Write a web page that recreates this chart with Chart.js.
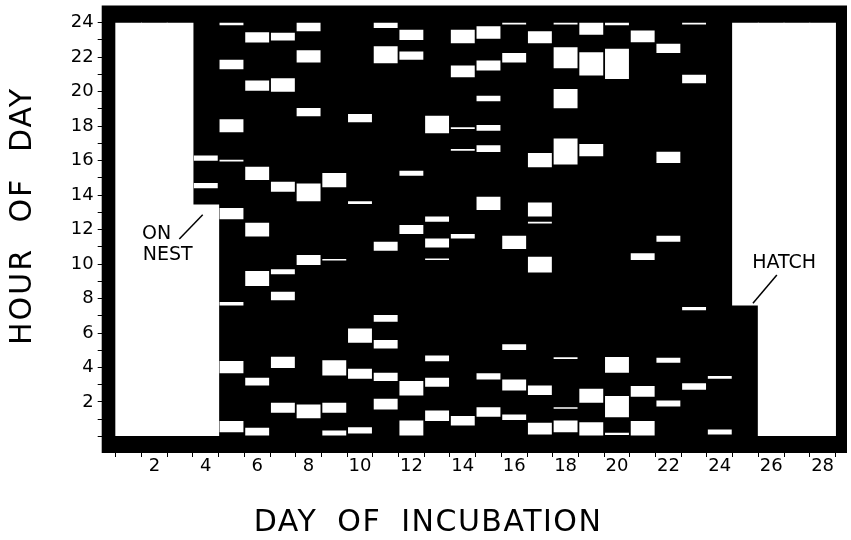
<!DOCTYPE html>
<html>
<head>
<meta charset="utf-8">
<script src="https://cdn.jsdelivr.net/npm/chart.js@4.4.0/dist/chart.umd.min.js"></script>
<style>
  html, body { margin: 0; padding: 0; background: #fff; }
</style>
</head>
<body>
<canvas id="chart" width="851" height="540"></canvas>
<script>
const dayTickLabels = ['2', '4', '6', '8', '10', '12', '14', '16', '18', '20', '22', '24', '26', '28'];
const hourTickLabels = ['2', '4', '6', '8', '10', '12', '14', '16', '18', '20', '22', '24'];

// [day, from hour, to hour]: bird not yet incubating / chicks hatched
const beforeStart = [[1, 0, 24], [2, 0, 24], [3, 0, 24], [4, 0, 13.45]];
const afterHatch = [[25, 7.6, 24], [26, 0, 24], [27, 0, 24], [28, 0, 24]];

// [day, from hour, to hour]: off-nest bouts (white bars)
const offNestBouts = [
    [4, 14.4, 14.7], [4, 16.0, 16.3],
    [5, 0.25, 0.9], [5, 3.66, 4.38], [5, 7.6, 7.8], [5, 12.6, 13.25], [5, 15.95, 16.05], [5, 17.65, 18.4], [5, 21.3, 21.85], [5, 23.85, 24.0],
    [6, 0.05, 0.5], [6, 2.96, 3.4], [6, 8.73, 9.6], [6, 11.6, 12.4], [6, 14.87, 15.65], [6, 20.05, 20.65], [6, 22.85, 23.45],
    [7, 1.38, 1.96], [7, 3.97, 4.63], [7, 7.9, 8.4], [7, 9.41, 9.7], [7, 14.2, 14.78], [7, 20.0, 20.78], [7, 22.97, 23.42],
    [8, 1.05, 1.86], [8, 9.95, 10.52], [8, 13.65, 14.68], [8, 18.58, 19.06], [8, 21.7, 22.4], [8, 23.5, 24.0],
    [9, 0.06, 0.35], [9, 1.38, 1.96], [9, 3.54, 4.42], [9, 10.2, 10.3], [9, 14.45, 15.28],
    [10, 0.17, 0.54], [10, 3.35, 3.93], [10, 5.44, 6.26], [10, 13.48, 13.64], [10, 18.23, 18.71],
    [11, 1.57, 2.19], [11, 3.21, 3.7], [11, 5.1, 5.6], [11, 6.66, 7.05], [11, 10.77, 11.29], [11, 21.65, 22.64], [11, 23.7, 24.0],
    [12, 0.06, 0.93], [12, 2.38, 3.21], [12, 11.74, 12.26], [12, 15.13, 15.42], [12, 21.85, 22.33], [12, 23.0, 23.6],
    [13, 0.89, 1.51], [13, 2.89, 3.41], [13, 4.36, 4.7], [13, 10.23, 10.33], [13, 10.96, 11.48], [13, 12.45, 12.76], [13, 17.59, 18.61],
    [14, 0.64, 1.19], [14, 11.49, 11.74], [14, 16.58, 16.68], [14, 17.84, 17.93], [14, 20.84, 21.52], [14, 22.81, 23.59],
    [15, 1.14, 1.7], [15, 3.31, 3.66], [15, 13.13, 13.9], [15, 16.5, 16.89], [15, 17.74, 18.07], [15, 19.45, 19.77], [15, 21.23, 21.81], [15, 23.07, 23.8],
    [16, 0.95, 1.28], [16, 2.67, 3.31], [16, 5.01, 5.35], [16, 10.87, 11.64], [16, 21.7, 22.24], [16, 23.9, 24.0],
    [17, 0.12, 0.79], [17, 2.4, 2.96], [17, 9.51, 10.42], [17, 12.35, 12.45], [17, 12.76, 13.57], [17, 15.61, 16.44], [17, 22.81, 23.51],
    [18, 0.25, 0.93], [18, 1.6, 1.7], [18, 4.5, 4.6], [18, 15.77, 17.29], [18, 19.04, 20.16], [18, 21.36, 22.58], [18, 23.9, 24.0],
    [19, 0.06, 0.83], [19, 1.96, 2.76], [19, 16.25, 16.97], [19, 20.94, 22.29], [19, 23.3, 24.0],
    [20, 0.08, 0.21], [20, 1.12, 2.34], [20, 3.7, 4.61], [20, 20.74, 22.49], [20, 23.85, 24.0],
    [21, 0.06, 0.89], [21, 2.31, 2.92], [21, 10.24, 10.63], [21, 22.87, 23.55],
    [22, 1.74, 2.09], [22, 4.28, 4.57], [22, 11.29, 11.64], [22, 15.86, 16.52], [22, 22.24, 22.78],
    [23, 2.71, 3.08], [23, 7.32, 7.51], [23, 20.49, 20.98], [23, 23.9, 24.0],
    [24, 0.12, 0.41], [24, 3.35, 3.5]
];

const black = '#000';
const white = '#fff';
const family = "'DejaVu Sans', sans-serif";
const ctx = document.querySelector('#chart').getContext('2d');

// a day n sits between n-1 and n on the x scale
const toBars = rows => rows.map(([day, from, to]) => ({ x: day - 0.5, y: [from, to] }));

const noPadding = s => { s.paddingTop = 0; s.paddingBottom = 0; s.paddingLeft = 0; s.paddingRight = 0; };

const blackBox = {
    id: 'blackBox',
    beforeDatasetsDraw(chart) {
        const { ctx, chartArea: a } = chart;
        ctx.save();
        ctx.fillStyle = black;
        ctx.fillRect(a.left, a.top, a.right - a.left, a.bottom - a.top);
        ctx.restore();
    }
};

const notes = {
    id: 'notes',
    afterDraw(chart) {
        const { ctx, scales: { x, y } } = chart;
        const px = v => x.getPixelForValue(v);
        const py = v => y.getPixelForValue(v);
        const line = (x1, y1, x2, y2) => {
            ctx.beginPath();
            ctx.moveTo(px(x1), py(y1));
            ctx.lineTo(px(x2), py(y2));
            ctx.stroke();
        };
        ctx.save();
        ctx.fillStyle = black;
        ctx.strokeStyle = black;
        ctx.lineWidth = 1.5;
        ctx.font = `19px ${family}`;
        ctx.textBaseline = 'alphabetic';
        ctx.fillText('ON', px(1.02), py(11.46));
        ctx.fillText('NEST', px(1.05), py(10.24));
        line(2.47, 11.45, 3.38, 12.86);
        ctx.fillText('HATCH', px(24.76), py(9.76));
        line(24.79, 7.73, 25.72, 9.37);

        // axis titles
        ctx.font = `30px ${family}`;
        ctx.textAlign = 'center';
        ctx.textBaseline = 'middle';
        ctx.letterSpacing = '1.5px';
        ctx.wordSpacing = '9px';
        ctx.fillText('DAY OF INCUBATION', 428, 523);
        ctx.letterSpacing = '2px';
        ctx.wordSpacing = '14px';
        ctx.translate(23, 216);
        ctx.rotate(-Math.PI / 2);
        ctx.fillText('HOUR OF DAY', 0, 0);
        ctx.restore();
    }
};

const tickFont = { family, size: 18, lineHeight: 1 };

new Chart(ctx, {
    type: 'bar',
    data: {
        datasets: [{
            data: toBars(beforeStart.concat(afterHatch)),
            backgroundColor: white,
            borderWidth: 0,
            grouped: false,
            barPercentage: 1.04,
            categoryPercentage: 1
        }, {
            data: toBars(offNestBouts),
            backgroundColor: white,
            borderWidth: 0,
            grouped: false,
            barPercentage: 0.93,
            categoryPercentage: 1
        }]
    },
    options: {
        responsive: false,
        animation: false,
        layout: { padding: { left: 0, right: 4, top: 5.5, bottom: 0 } },
        plugins: { legend: { display: false }, tooltip: { enabled: false } },
        scales: {
            x: {
                type: 'linear',
                position: 'bottom',
                weight: 0,
                min: -0.55,
                max: 28.45,
                offset: false,
                afterBuildTicks: s => { s.ticks = Array.from({ length: 29 }, (_, i) => ({ value: i })); },
                ticks: { display: false },
                grid: { offset: false, drawOnChartArea: false, drawTicks: true, tickLength: 4, tickColor: black, tickWidth: 1 },
                border: { display: false },
                afterFit: noPadding
            },
            dayAxis: {
                type: 'linear',
                position: 'bottom',
                weight: 1,
                min: -0.55,
                max: 28.45,
                offset: false,
                afterBuildTicks: s => { s.ticks = dayTickLabels.map(d => ({ value: Number(d) - 0.5 })); },
                ticks: { autoSkip: false, maxRotation: 0, padding: 0, color: black, font: tickFont, callback: (v, i) => dayTickLabels[i] },
                grid: { display: false, drawTicks: false },
                border: { display: false },
                afterFit: s => { noPadding(s); s.height = 83; }
            },
            y: {
                type: 'linear',
                min: -0.96,
                max: 25,
                afterBuildTicks: s => { s.ticks = Array.from({ length: 25 }, (_, i) => ({ value: i })); },
                ticks: {
                    autoSkip: false,
                    padding: 4,
                    color: black,
                    font: tickFont,
                    callback: v => hourTickLabels.includes(String(v)) ? String(v) : ''
                },
                grid: { drawOnChartArea: false, drawTicks: true, tickLength: 4, tickColor: black, tickWidth: 1 },
                border: { display: false },
                afterFit: s => { noPadding(s); s.width = 101.7; }
            }
        }
    },
    plugins: [blackBox, notes]
});
</script>
</body>
</html>
